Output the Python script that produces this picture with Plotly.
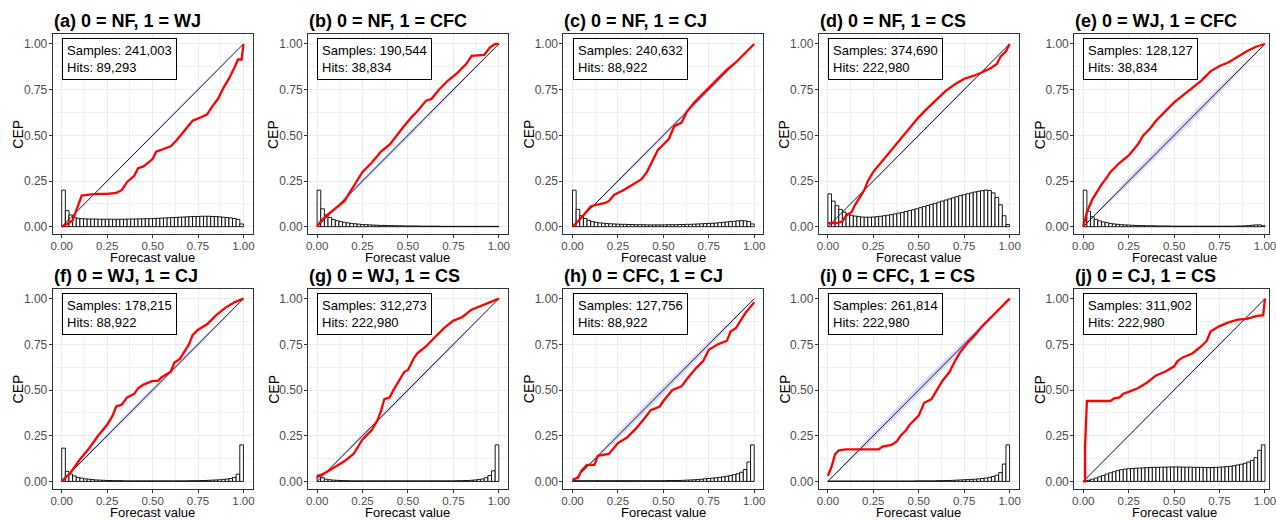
import plotly.graph_objects as go
from plotly.subplots import make_subplots

W, H = 1276, 520
FONT = "Liberation Sans, Arial, sans-serif"

titles = ["(a) 0 = NF, 1 = WJ", "(b) 0 = NF, 1 = CFC", "(c) 0 = NF, 1 = CJ", "(d) 0 = NF, 1 = CS",
          "(e) 0 = WJ, 1 = CFC", "(f) 0 = WJ, 1 = CJ", "(g) 0 = WJ, 1 = CS", "(h) 0 = CFC, 1 = CJ",
          "(i) 0 = CFC, 1 = CS", "(j) 0 = CJ, 1 = CS"]
samples = ["241,003", "190,544", "240,632", "374,690", "128,127",
           "178,215", "312,273", "127,756", "261,814", "311,902"]
hits = ["89,293", "38,834", "88,922", "222,980", "38,834",
        "88,922", "222,980", "88,922", "222,980", "222,980"]

tick_vals = [0, 0.25, 0.5, 0.75, 1.0]
tick_text = ["0.00", "0.25", "0.50", "0.75", "1.00"]
minor_vals = [0.125, 0.375, 0.625, 0.875]

BIN_WIDTH = 0.02
bin_centers = [round(BIN_WIDTH * k + BIN_WIDTH / 2, 3) for k in range(50)]

# CEP curves (x, y)
cep_a_x = [0, 0.03, 0.06, 0.08, 0.11, 0.15, 0.2, 0.25, 0.3, 0.33, 0.36, 0.4, 0.42, 0.45, 0.5, 0.52, 0.57, 0.6, 0.63, 0.67, 0.72, 0.77, 0.8, 0.83, 0.86, 0.89, 0.92, 0.95, 0.97, 0.99, 1.0]
cep_a_y = [0, 0.015, 0.035, 0.09, 0.17, 0.175, 0.18, 0.18, 0.185, 0.2, 0.245, 0.28, 0.32, 0.33, 0.37, 0.41, 0.43, 0.44, 0.47, 0.52, 0.58, 0.6, 0.615, 0.66, 0.7, 0.76, 0.81, 0.87, 0.915, 0.915, 1.0]
cep_b_x = [0, 0.02, 0.05, 0.1, 0.15, 0.2, 0.25, 0.3, 0.35, 0.4, 0.43, 0.47, 0.52, 0.55, 0.6, 0.63, 0.67, 0.72, 0.77, 0.82, 0.85, 0.92, 0.95, 0.98, 1.0]
cep_b_y = [0.0, 0.03, 0.06, 0.1, 0.14, 0.22, 0.3, 0.35, 0.41, 0.45, 0.49, 0.54, 0.6, 0.63, 0.69, 0.7, 0.75, 0.8, 0.84, 0.89, 0.935, 0.94, 0.98, 1.0, 1.0]
cep_c_x = [0, 0.05, 0.1, 0.13, 0.18, 0.2, 0.23, 0.28, 0.33, 0.38, 0.41, 0.44, 0.47, 0.5, 0.53, 0.56, 0.6, 0.63, 0.67, 0.71, 0.75, 0.8, 0.85, 0.9, 0.95, 1.0]
cep_c_y = [0, 0.05, 0.11, 0.12, 0.13, 0.14, 0.175, 0.2, 0.23, 0.26, 0.3, 0.36, 0.42, 0.45, 0.48, 0.55, 0.57, 0.63, 0.68, 0.72, 0.76, 0.81, 0.86, 0.9, 0.95, 1.0]
cep_d_x = [0, 0.05, 0.08, 0.1, 0.13, 0.15, 0.2, 0.22, 0.25, 0.3, 0.35, 0.4, 0.45, 0.5, 0.55, 0.6, 0.65, 0.7, 0.75, 0.8, 0.85, 0.9, 0.93, 0.95, 0.98, 1.0]
cep_d_y = [0.02, 0.02, 0.03, 0.06, 0.08, 0.12, 0.2, 0.25, 0.3, 0.36, 0.42, 0.48, 0.54, 0.6, 0.65, 0.7, 0.745, 0.78, 0.81, 0.825, 0.845, 0.87, 0.89, 0.93, 0.96, 1.0]
cep_e_x = [0, 0.02, 0.05, 0.08, 0.1, 0.13, 0.15, 0.2, 0.25, 0.3, 0.33, 0.37, 0.4, 0.45, 0.5, 0.55, 0.6, 0.65, 0.7, 0.75, 0.8, 0.85, 0.9, 0.95, 1.0]
cep_e_y = [0, 0.08, 0.15, 0.2, 0.23, 0.27, 0.3, 0.35, 0.39, 0.45, 0.5, 0.54, 0.58, 0.63, 0.68, 0.72, 0.76, 0.8, 0.85, 0.88, 0.9, 0.93, 0.96, 0.985, 1.0]
cep_f_x = [0, 0.05, 0.1, 0.15, 0.2, 0.25, 0.28, 0.3, 0.33, 0.36, 0.4, 0.42, 0.45, 0.5, 0.53, 0.55, 0.6, 0.62, 0.65, 0.7, 0.72, 0.75, 0.8, 0.85, 0.9, 0.95, 1.0]
cep_f_y = [0, 0.05, 0.12, 0.18, 0.25, 0.31, 0.36, 0.41, 0.42, 0.46, 0.48, 0.51, 0.53, 0.55, 0.55, 0.57, 0.6, 0.65, 0.67, 0.75, 0.8, 0.83, 0.86, 0.91, 0.95, 0.98, 1.0]
cep_g_x = [0, 0.01, 0.05, 0.1, 0.15, 0.2, 0.25, 0.28, 0.3, 0.33, 0.35, 0.37, 0.4, 0.42, 0.45, 0.48, 0.5, 0.53, 0.55, 0.6, 0.65, 0.7, 0.75, 0.8, 0.85, 0.9, 0.95, 1.0]
cep_g_y = [0.02, 0.03, 0.05, 0.08, 0.11, 0.15, 0.23, 0.26, 0.28, 0.33, 0.38, 0.45, 0.46, 0.5, 0.55, 0.6, 0.61, 0.67, 0.7, 0.74, 0.79, 0.84, 0.88, 0.9, 0.94, 0.96, 0.98, 1.0]
cep_h_x = [0, 0.03, 0.05, 0.08, 0.12, 0.14, 0.2, 0.25, 0.3, 0.35, 0.4, 0.43, 0.48, 0.5, 0.55, 0.6, 0.63, 0.68, 0.72, 0.75, 0.8, 0.85, 0.87, 0.9, 0.95, 1.0]
cep_h_y = [0.01, 0.02, 0.06, 0.09, 0.09, 0.14, 0.15, 0.21, 0.24, 0.29, 0.35, 0.39, 0.41, 0.44, 0.5, 0.52, 0.56, 0.62, 0.66, 0.72, 0.75, 0.77, 0.82, 0.84, 0.92, 0.98]
cep_i_x = [0, 0.02, 0.04, 0.06, 0.1, 0.2, 0.28, 0.3, 0.35, 0.38, 0.4, 0.43, 0.45, 0.5, 0.53, 0.57, 0.6, 0.63, 0.67, 0.7, 0.73, 0.77, 0.8, 0.85, 0.9, 0.95, 1.0]
cep_i_y = [0.03, 0.08, 0.15, 0.17, 0.175, 0.175, 0.175, 0.19, 0.2, 0.22, 0.25, 0.28, 0.31, 0.36, 0.43, 0.45, 0.5, 0.55, 0.6, 0.66, 0.71, 0.76, 0.79, 0.85, 0.9, 0.95, 1.0]
cep_j_x = [0, 0.01, 0.01, 0.02, 0.15, 0.17, 0.2, 0.22, 0.25, 0.3, 0.35, 0.4, 0.45, 0.5, 0.52, 0.55, 0.6, 0.65, 0.68, 0.7, 0.75, 0.8, 0.85, 0.9, 0.95, 0.99, 1.0]
cep_j_y = [0, 0.0, 0.2, 0.44, 0.44, 0.455, 0.46, 0.48, 0.49, 0.51, 0.54, 0.58, 0.6, 0.63, 0.66, 0.68, 0.7, 0.74, 0.77, 0.82, 0.85, 0.87, 0.885, 0.89, 0.905, 0.91, 1.0]

# Histograms (scaled, 50 bins)
hist_a = [0.200, 0.088, 0.064, 0.051, 0.046, 0.044, 0.043, 0.042, 0.042, 0.042,
          0.041, 0.041, 0.041, 0.041, 0.041, 0.041, 0.041, 0.041, 0.042, 0.042,
          0.042, 0.043, 0.043, 0.044, 0.044, 0.045, 0.046, 0.047, 0.048, 0.049,
          0.050, 0.051, 0.052, 0.053, 0.054, 0.055, 0.056, 0.056, 0.057, 0.057,
          0.057, 0.056, 0.055, 0.054, 0.052, 0.050, 0.048, 0.045, 0.040, 0.015]
hist_b = [0.200, 0.098, 0.065, 0.050, 0.040, 0.033, 0.028, 0.024, 0.021, 0.018,
          0.016, 0.014, 0.012, 0.011, 0.010, 0.009, 0.008, 0.007, 0.007, 0.006,
          0.006, 0.005, 0.005, 0.005, 0.004, 0.004, 0.004, 0.004, 0.003, 0.003,
          0.003, 0.003, 0.003, 0.003, 0.002, 0.002, 0.002, 0.002, 0.002, 0.002,
          0.002, 0.002, 0.002, 0.002, 0.002, 0.002, 0.002, 0.002, 0.002, 0.002]
hist_c = [0.200, 0.095, 0.060, 0.045, 0.035, 0.028, 0.024, 0.021, 0.019, 0.017,
          0.016, 0.015, 0.014, 0.013, 0.013, 0.012, 0.012, 0.011, 0.011, 0.011,
          0.010, 0.010, 0.010, 0.010, 0.010, 0.010, 0.011, 0.011, 0.011, 0.012,
          0.012, 0.013, 0.013, 0.014, 0.015, 0.016, 0.017, 0.018, 0.019, 0.020,
          0.022, 0.024, 0.026, 0.028, 0.030, 0.032, 0.033, 0.032, 0.028, 0.015]
hist_d = [0.180, 0.140, 0.115, 0.095, 0.080, 0.070, 0.063, 0.058, 0.055, 0.053,
          0.052, 0.052, 0.053, 0.055, 0.057, 0.060, 0.063, 0.066, 0.070, 0.074,
          0.078, 0.083, 0.088, 0.093, 0.098, 0.104, 0.110, 0.116, 0.122, 0.128,
          0.134, 0.140, 0.146, 0.152, 0.158, 0.164, 0.170, 0.175, 0.180, 0.185,
          0.190, 0.194, 0.197, 0.200, 0.198, 0.185, 0.160, 0.120, 0.060, 0.012]
hist_e = [0.200, 0.085, 0.055, 0.040, 0.032, 0.026, 0.022, 0.018, 0.015, 0.013,
          0.011, 0.010, 0.009, 0.008, 0.007, 0.006, 0.006, 0.005, 0.005, 0.005,
          0.004, 0.004, 0.004, 0.004, 0.003, 0.003, 0.003, 0.003, 0.003, 0.003,
          0.003, 0.003, 0.003, 0.003, 0.003, 0.003, 0.003, 0.003, 0.003, 0.003,
          0.003, 0.003, 0.004, 0.004, 0.005, 0.006, 0.008, 0.010, 0.010, 0.005]
hist_f = [0.182, 0.055, 0.040, 0.030, 0.022, 0.018, 0.014, 0.012, 0.010, 0.008,
          0.007, 0.006, 0.005, 0.005, 0.004, 0.004, 0.004, 0.003, 0.003, 0.003,
          0.003, 0.003, 0.003, 0.003, 0.003, 0.003, 0.003, 0.003, 0.003, 0.003,
          0.003, 0.003, 0.003, 0.003, 0.003, 0.004, 0.004, 0.004, 0.005, 0.005,
          0.006, 0.007, 0.008, 0.009, 0.011, 0.013, 0.016, 0.022, 0.040, 0.200]
hist_g = [0.035, 0.020, 0.012, 0.009, 0.007, 0.006, 0.005, 0.004, 0.004, 0.003,
          0.003, 0.003, 0.003, 0.003, 0.003, 0.003, 0.003, 0.003, 0.003, 0.003,
          0.003, 0.003, 0.003, 0.003, 0.003, 0.003, 0.003, 0.003, 0.003, 0.003,
          0.003, 0.003, 0.003, 0.003, 0.003, 0.003, 0.003, 0.003, 0.004, 0.004,
          0.005, 0.005, 0.006, 0.008, 0.010, 0.013, 0.020, 0.032, 0.058, 0.200]
hist_h = [0.004, 0.004, 0.004, 0.004, 0.004, 0.004, 0.004, 0.004, 0.004, 0.004,
          0.004, 0.004, 0.004, 0.004, 0.004, 0.004, 0.004, 0.004, 0.004, 0.004,
          0.004, 0.004, 0.004, 0.004, 0.004, 0.004, 0.005, 0.005, 0.005, 0.005,
          0.006, 0.007, 0.008, 0.009, 0.010, 0.012, 0.014, 0.016, 0.018, 0.020,
          0.022, 0.025, 0.028, 0.032, 0.037, 0.042, 0.050, 0.065, 0.106, 0.200]
hist_i = [0.002, 0.002, 0.002, 0.002, 0.002, 0.002, 0.002, 0.002, 0.002, 0.002,
          0.002, 0.002, 0.002, 0.002, 0.002, 0.002, 0.002, 0.002, 0.002, 0.002,
          0.002, 0.002, 0.002, 0.002, 0.003, 0.003, 0.003, 0.003, 0.003, 0.003,
          0.004, 0.004, 0.005, 0.005, 0.006, 0.007, 0.008, 0.009, 0.010, 0.011,
          0.012, 0.014, 0.016, 0.018, 0.022, 0.027, 0.034, 0.048, 0.095, 0.200]
hist_j = [0.002, 0.006, 0.012, 0.018, 0.025, 0.032, 0.040, 0.047, 0.053, 0.059,
          0.064, 0.067, 0.069, 0.071, 0.072, 0.073, 0.074, 0.075, 0.076, 0.077,
          0.077, 0.078, 0.078, 0.079, 0.079, 0.079, 0.079, 0.078, 0.078, 0.078,
          0.077, 0.077, 0.077, 0.076, 0.076, 0.076, 0.077, 0.078, 0.079, 0.081,
          0.083, 0.086, 0.090, 0.094, 0.099, 0.106, 0.115, 0.130, 0.170, 0.200]

# consistency band half-widths at band_x
band_x = [0, 0.25, 0.5, 0.75, 1.0]
band_a = [0.0, 0.006, 0.008, 0.006, 0.0]
band_b = [0.0, 0.012, 0.014, 0.012, 0.0]
band_c = [0.0, 0.010, 0.012, 0.010, 0.0]
band_d = [0.0, 0.006, 0.007, 0.006, 0.0]
band_e = [0.0, 0.020, 0.024, 0.020, 0.0]
band_f = [0.0, 0.012, 0.015, 0.012, 0.0]
band_g = [0.0, 0.012, 0.012, 0.010, 0.0]
band_h = [0.0, 0.020, 0.022, 0.018, 0.0]
band_i = [0.0, 0.022, 0.025, 0.020, 0.0]
band_j = [0.0, 0.006, 0.007, 0.006, 0.0]

ceps = [(cep_a_x, cep_a_y), (cep_b_x, cep_b_y), (cep_c_x, cep_c_y), (cep_d_x, cep_d_y), (cep_e_x, cep_e_y),
        (cep_f_x, cep_f_y), (cep_g_x, cep_g_y), (cep_h_x, cep_h_y), (cep_i_x, cep_i_y), (cep_j_x, cep_j_y)]
hists = [hist_a, hist_b, hist_c, hist_d, hist_e, hist_f, hist_g, hist_h, hist_i, hist_j]
bands = [band_a, band_b, band_c, band_d, band_e, band_f, band_g, band_h, band_i, band_j]

# ---- layout geometry (pixels) ----
COL_LEFT = [51 + 257.2 * i for i in range(5)]
PANEL_W = 201.3
ROW_TOP = [34.3, 289.0]
PANEL_H = 200.0
X_LO, X_HI = -0.05, 1.05
Y_LO, Y_HI = -0.0416, 1.053

fig = make_subplots(rows=2, cols=5)

for idx in range(10):
    r, c = idx // 5 + 1, idx % 5 + 1
    hx = hists[idx]
    fig.add_trace(go.Bar(x=bin_centers, y=hx, width=BIN_WIDTH,
                         marker=dict(color="white", line=dict(color="black", width=0.9)),
                         hoverinfo="skip"), row=r, col=c)
    bw = bands[idx]
    up = [bx + w for bx, w in zip(band_x, bw)]
    lo = [bx - w for bx, w in zip(band_x, bw)]
    fig.add_trace(go.Scatter(x=band_x + band_x[::-1], y=up + lo[::-1], fill="toself",
                             fillcolor="rgba(150,150,240,0.35)", line=dict(width=0),
                             mode="lines", hoverinfo="skip"), row=r, col=c)
    fig.add_trace(go.Scatter(x=[0, 1], y=[0, 1], mode="lines",
                             line=dict(color="#1A1A33", width=1), hoverinfo="skip"), row=r, col=c)
    cx, cy = ceps[idx]
    fig.add_trace(go.Scatter(x=cx, y=cy, mode="lines",
                             line=dict(color="#FF0000", width=2.3), hoverinfo="skip"), row=r, col=c)

    left = COL_LEFT[c - 1]
    right = min(left + PANEL_W, W)
    x_hi = X_LO + (right - left) / PANEL_W * (X_HI - X_LO)
    top = ROW_TOP[r - 1]
    bottom = top + PANEL_H
    axis_common = dict(
        tickvals=tick_vals, ticktext=tick_text, ticks="outside", ticklen=3,
        tickcolor="#333333", tickwidth=1, showline=True, mirror=True,
        linecolor="#333333", linewidth=1, showgrid=True, gridcolor="#EBEBEB",
        gridwidth=1, zeroline=False,
        minor=dict(tickvals=minor_vals, showgrid=True, gridcolor="#F0F0F0", gridwidth=0.6, ticks=""),
        fixedrange=True, ticklabeloverflow="allow",
    )
    fig.update_xaxes(domain=[left / W, right / W], range=[X_LO, x_hi], ticklabelstandoff=-2,
                     tickfont=dict(family=FONT, size=11.5, color="#4D4D4D"),
                     **axis_common, row=r, col=c)
    fig.update_yaxes(domain=[1 - bottom / H, 1 - top / H], range=[Y_LO, Y_HI], ticklabelstandoff=-1,
                     tickfont=dict(family=FONT, size=12, color="#4D4D4D"),
                     **axis_common, row=r, col=c)

    # info box
    fig.add_annotation(x=0, y=1.033, xanchor="left", yanchor="top", align="left",
                       text=f"Samples: {samples[idx]}<br>Hits: {hits[idx]}",
                       showarrow=False, bordercolor="black", borderwidth=1, borderpad=4,
                       bgcolor="white", font=dict(family=FONT, size=13, color="black"),
                       row=r, col=c)
    # panel title
    fig.add_annotation(x=left / W, y=1 - (top - 13) / H, xref="paper", yref="paper",
                       xanchor="left", yanchor="middle", showarrow=False, borderpad=0,
                       text=f"<b>{titles[idx]}</b>",
                       font=dict(family=FONT, size=18, color="black"))
    # y axis title
    fig.add_annotation(x=(left - 34.5) / W, y=1 - (top + PANEL_H / 2) / H, xref="paper", yref="paper",
                       xanchor="center", yanchor="middle", showarrow=False, textangle=-90, borderpad=0,
                       text="CEP", font=dict(family=FONT, size=14, color="black"))
    # x axis title
    ty = min(bottom + 23.0, H - 8.0)
    fig.add_annotation(x=(left + PANEL_W / 2) / W, y=1 - ty / H, xref="paper", yref="paper",
                       xanchor="center", yanchor="middle", showarrow=False, borderpad=0,
                       text="Forecast value", font=dict(family=FONT, size=13, color="black"))

fig.update_layout(width=W, height=H, margin=dict(l=0, r=0, t=0, b=0),
                  paper_bgcolor="white", plot_bgcolor="white", showlegend=False,
                  hovermode=False, font=dict(family=FONT))

fig.write_html("out.html", config={"displayModeBar": False})
